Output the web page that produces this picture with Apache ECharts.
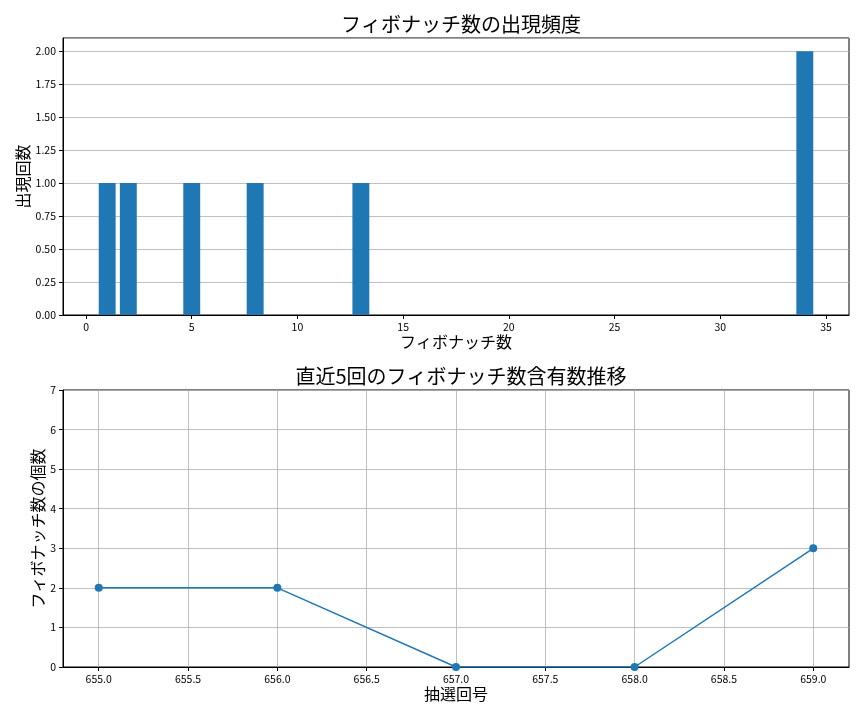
<!DOCTYPE html>
<html>
<head>
<meta charset="utf-8">
<script src="https://cdn.jsdelivr.net/npm/echarts@6/dist/echarts.min.js"></script>
<style>
html,body{margin:0;padding:0;background:#fff;}
#main{width:864px;height:720px;}
</style>
</head>
<body>
<div id="main"></div>
<script>
// 上段: フィボナッチ数の出現頻度
var fibNumbers = [1, 2, 5, 8, 13, 34];
var fibCounts = [1, 1, 1, 1, 1, 2];
var freqXTicks = [0, 5, 10, 15, 20, 25, 30, 35];

// 下段: 直近5回の推移
var drawNumbers = [655, 656, 657, 658, 659];
var fibContained = [2, 2, 0, 0, 3];
var drawXTicks = [655.0, 655.5, 656.0, 656.5, 657.0, 657.5, 658.0, 658.5, 659.0];

var FONT = '"Noto Sans CJK JP", "Noto Sans", sans-serif';
var BLUE = '#1f77b4';

var barData = [];
for (var i = 0; i < fibNumbers.length; i++) {
    barData.push([fibNumbers[i], fibCounts[i]]);
}
var lineData = [];
for (var i = 0; i < drawNumbers.length; i++) {
    lineData.push([drawNumbers[i], fibContained[i]]);
}

var chart = echarts.init(document.getElementById('main'));

var tickLabel = {color: '#000', fontFamily: FONT, fontSize: 10.5, margin: 7};
var axisLine = {show: true, onZero: false, lineStyle: {color: '#000', width: 1}};
var axisTick = {show: true, length: 4, lineStyle: {color: '#000'}};
var gridLine = {show: true, lineStyle: {color: '#b0b0b0', width: 0.8}};
var nameStyle = {color: '#000', fontFamily: FONT, fontSize: 16};
var titleStyle = {fontFamily: FONT, fontSize: 20, fontWeight: 'normal', color: '#000'};

var option = {
    animation: false,
    title: [
        {text: 'フィボナッチ数の出現頻度', left: 456, top: 9, textAlign: 'center', textStyle: titleStyle},
        {text: '直近5回のフィボナッチ数含有数推移', left: 456, top: 361, textAlign: 'center', textStyle: titleStyle}
    ],
    grid: [
        {left: 63, top: 38, width: 786, height: 277, show: true, borderColor: '#000', borderWidth: 1, backgroundColor: '#fff'},
        {left: 63, top: 390, width: 786, height: 277, show: true, borderColor: '#000', borderWidth: 1, backgroundColor: '#fff'}
    ],
    xAxis: [
        {type: 'value', gridIndex: 0, min: -1.09, max: 36.09,
         name: 'フィボナッチ数', nameLocation: 'middle', nameGap: 19, nameTextStyle: nameStyle,
         axisLine: axisLine,
         axisTick: {show: true, length: 4, lineStyle: {color: '#000'}, customValues: freqXTicks},
         axisLabel: {color: '#000', fontFamily: FONT, fontSize: 10.5, margin: 7, customValues: freqXTicks},
         splitLine: {show: false}},
        {type: 'value', gridIndex: 1, min: 654.8, max: 659.2,
         name: '抽選回号', nameLocation: 'middle', nameGap: 19, nameTextStyle: nameStyle,
         axisLine: axisLine,
         axisTick: {show: true, length: 4, lineStyle: {color: '#000'}, customValues: drawXTicks},
         axisLabel: {color: '#000', fontFamily: FONT, fontSize: 10.5, margin: 7, customValues: drawXTicks,
                     formatter: function (v) { return v.toFixed(1); }},
         splitLine: gridLine}
    ],
    yAxis: [
        {type: 'value', gridIndex: 0, min: 0, max: 2.1, interval: 0.25,
         name: '出現回数', nameLocation: 'middle', nameGap: 32, nameMoveOverlap: false, nameTextStyle: nameStyle,
         axisLine: axisLine, axisTick: axisTick,
         axisLabel: {color: '#000', fontFamily: FONT, fontSize: 10.5, margin: 7, showMaxLabel: false,
                     formatter: function (v) { return v.toFixed(2); }},
         splitLine: gridLine},
        {type: 'value', gridIndex: 1, min: 0, max: 7, interval: 1,
         name: 'フィボナッチ数の個数', nameLocation: 'middle', nameGap: 17, nameMoveOverlap: false, nameTextStyle: nameStyle,
         axisLine: axisLine, axisTick: axisTick, axisLabel: tickLabel,
         splitLine: gridLine}
    ],
    series: [
        {type: 'custom', xAxisIndex: 0, yAxisIndex: 0, data: barData,
         renderItem: function (params, api) {
             var x = api.value(0), y = api.value(1);
             var top = api.coord([x - 0.4, y]);
             var bottom = api.coord([x + 0.4, 0]);
             return {type: 'rect',
                     shape: {x: top[0], y: top[1], width: bottom[0] - top[0], height: bottom[1] - top[1]},
                     style: {fill: BLUE}};
         }},
        {type: 'line', xAxisIndex: 1, yAxisIndex: 1, data: lineData,
         symbol: 'circle', symbolSize: 8, showSymbol: true,
         lineStyle: {color: BLUE, width: 1.5}, itemStyle: {color: BLUE}}
    ]
};
chart.setOption(option);
</script>
</body>
</html>
